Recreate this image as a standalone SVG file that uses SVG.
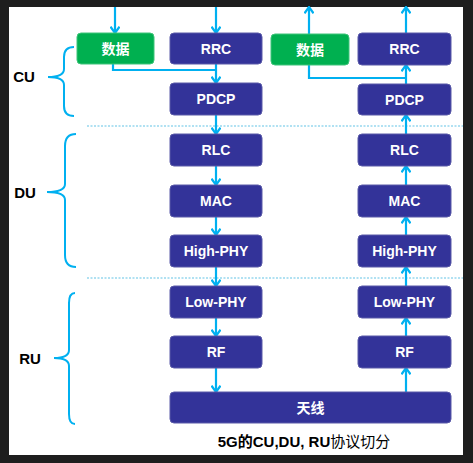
<svg xmlns="http://www.w3.org/2000/svg" width="473" height="463" viewBox="0 0 473 463">
<style>
.box{fill:#333399;stroke:#5a5aa8;stroke-width:1}
.grn{fill:#00b050;stroke:#3fc47a;stroke-width:1}
.t{font-family:"Liberation Sans","Noto Sans CJK SC",sans-serif;font-weight:bold;font-size:14px;fill:#fff;text-anchor:middle}
.lbl{font-family:"Liberation Sans",sans-serif;font-weight:bold;font-size:15px;fill:#000;text-anchor:middle}
.ar{fill:none;stroke:#00b0f0;stroke-width:2.2}
.br{fill:none;stroke:#00b0f0;stroke-width:2}
.dash{stroke:#62c3e6;stroke-width:1.2;stroke-dasharray:2 1.5}
</style>
<defs>
<marker id="ah" viewBox="0 0 10 10" refX="9.3" refY="5" markerWidth="10" markerHeight="10" markerUnits="userSpaceOnUse" orient="auto">
<path d="M3,0.5 L9.3,5 L3,9.5" fill="none" stroke="#00b0f0" stroke-width="2.2"/>
</marker>
</defs>
<rect x="0" y="0" width="473" height="463" fill="#1e1e1e"/>
<rect x="9" y="7" width="454" height="448" fill="#ffffff"/>
<line class="dash" x1="87" y1="126" x2="463" y2="126"/>
<line class="dash" x1="87" y1="278" x2="463" y2="278"/>
<g id="connectors">
<path class="ar" d="M115,7 V33" marker-end="url(#ah)"/>
<path class="ar" d="M216,7 V33" marker-end="url(#ah)"/>
<path class="ar" d="M113,64 V70 H216"/>
<path class="ar" d="M216,64 V83" marker-end="url(#ah)"/>
<path class="ar" d="M216,115 V134" marker-end="url(#ah)"/>
<path class="ar" d="M216,166 V185" marker-end="url(#ah)"/>
<path class="ar" d="M216,217 V235" marker-end="url(#ah)"/>
<path class="ar" d="M216,267 V286" marker-end="url(#ah)"/>
<path class="ar" d="M216,318 V336" marker-end="url(#ah)"/>
<path class="ar" d="M216,368 V392" marker-end="url(#ah)"/>
<path class="ar" d="M309,34 V7" marker-end="url(#ah)"/>
<path class="ar" d="M406,33 V7" marker-end="url(#ah)"/>
<path class="ar" d="M309,65 V78 H406"/>
<path class="ar" d="M406,84 V65" marker-end="url(#ah)"/>
<path class="ar" d="M406,134 V115" marker-end="url(#ah)"/>
<path class="ar" d="M406,185 V166" marker-end="url(#ah)"/>
<path class="ar" d="M406,235 V217" marker-end="url(#ah)"/>
<path class="ar" d="M406,286 V267" marker-end="url(#ah)"/>
<path class="ar" d="M406,336 V318" marker-end="url(#ah)"/>
<path class="ar" d="M406,392 V368" marker-end="url(#ah)"/>
</g>
<g id="cu-brace"><path class="br" d="M74,47 Q64,47 64,57 V69 Q64,77 48,77 Q64,77 64,85 V106 Q64,116 74,116"/><text class="lbl" x="24" y="82">CU</text></g>
<g id="du-brace"><path class="br" d="M76,134 Q65,134 65,146 V184 Q65,192 47,192 Q65,192 65,200 V255 Q65,267 76,267"/><text class="lbl" x="25" y="198">DU</text></g>
<g id="ru-brace"><path class="br" d="M75,293 Q69,293 69,303 V350 Q69,358 54,358 Q69,358 69,366 V414 Q69,424 75,424"/><text class="lbl" x="30" y="364">RU</text></g>
<g id="data-l"><rect class="grn" x="77" y="33" width="77" height="31" rx="4"/><text class="t" x="115.5" y="53.5">数据</text></g>
<g id="rrc-l"><rect class="box" x="170" y="33" width="92" height="31" rx="4"/><text class="t" x="216" y="53.5">RRC</text></g>
<g id="data-r"><rect class="grn" x="271" y="34" width="78" height="31" rx="4"/><text class="t" x="310" y="54.5">数据</text></g>
<g id="rrc-r"><rect class="box" x="358" y="33" width="93" height="32" rx="4"/><text class="t" x="404.5" y="54">RRC</text></g>
<g id="pdcp-l"><rect class="box" x="170" y="83" width="92" height="32" rx="4"/><text class="t" x="216" y="104">PDCP</text></g>
<g id="pdcp-r"><rect class="box" x="358" y="84" width="93" height="31" rx="4"/><text class="t" x="404.5" y="104.5">PDCP</text></g>
<g id="rlc-l"><rect class="box" x="170" y="134" width="92" height="32" rx="4"/><text class="t" x="216" y="155">RLC</text></g>
<g id="rlc-r"><rect class="box" x="358" y="134" width="93" height="32" rx="4"/><text class="t" x="404.5" y="155">RLC</text></g>
<g id="mac-l"><rect class="box" x="170" y="185" width="92" height="32" rx="4"/><text class="t" x="216" y="206">MAC</text></g>
<g id="mac-r"><rect class="box" x="358" y="185" width="93" height="32" rx="4"/><text class="t" x="404.5" y="206">MAC</text></g>
<g id="hphy-l"><rect class="box" x="170" y="235" width="92" height="32" rx="4"/><text class="t" x="216" y="256">High-PHY</text></g>
<g id="hphy-r"><rect class="box" x="358" y="235" width="93" height="32" rx="4"/><text class="t" x="404.5" y="256">High-PHY</text></g>
<g id="lphy-l"><rect class="box" x="170" y="286" width="92" height="32" rx="4"/><text class="t" x="216" y="307">Low-PHY</text></g>
<g id="lphy-r"><rect class="box" x="358" y="286" width="93" height="32" rx="4"/><text class="t" x="404.5" y="307">Low-PHY</text></g>
<g id="rf-l"><rect class="box" x="170" y="336" width="92" height="32" rx="4"/><text class="t" x="216" y="357">RF</text></g>
<g id="rf-r"><rect class="box" x="358" y="336" width="93" height="32" rx="4"/><text class="t" x="404.5" y="357">RF</text></g>
<g id="antenna"><rect class="box" x="170" y="392" width="281" height="31" rx="4"/><text class="t" x="310.5" y="412.5">天线</text></g>
<text x="304" y="447" font-family="Liberation Sans,'Noto Sans CJK SC',sans-serif" font-size="15" fill="#000" text-anchor="middle"><tspan font-weight="bold">5G的CU,DU, RU</tspan>协议切分</text>
</svg>
